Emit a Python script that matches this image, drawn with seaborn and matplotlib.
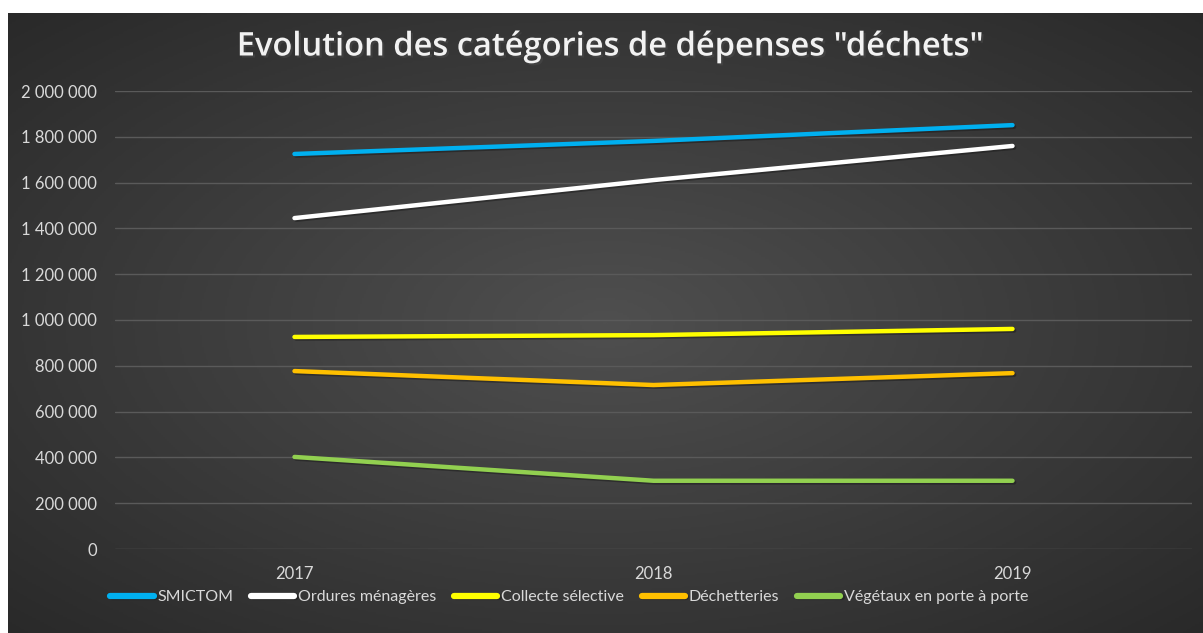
import numpy as np
import pandas as pd
import seaborn as sns
import matplotlib.pyplot as plt
import matplotlib.patheffects as pe
from matplotlib.ticker import FuncFormatter

# Data
annees = ['2017', '2018', '2019']
smictom = [1725000, 1782000, 1851000]
ordures = [1445000, 1611000, 1760000]
collecte = [926000, 934000, 961000]
dechetteries = [777000, 716000, 768000]
vegetaux = [402000, 298000, 298000]

categories = ['SMICTOM', 'Ordures ménagères', 'Collecte sélective',
              'Déchetteries', 'Végétaux en porte à porte']
couleurs = ['#00b0f0', '#ffffff', '#ffff00', '#ffc000', '#92d050']

df = pd.DataFrame({
    'annee': annees * 5,
    'valeur': smictom + ordures + collecte + dechetteries + vegetaux,
    'categorie': np.repeat(categories, 3),
})

sns.set_theme(style='dark')
plt.rcParams['font.family'] = ['Lato', 'DejaVu Sans']

fig = plt.figure(figsize=(12.03, 6.33), dpi=100, facecolor='white')

# dark radial gradient background (Excel style)
bg = fig.add_axes([8 / 1203, 0, 1195 / 1203, 620 / 633], zorder=0)
yy, xx = np.mgrid[-1:1:300j, -1:1:600j]
r = np.sqrt(xx ** 2 + yy ** 2) / np.sqrt(2)
bg.imshow(r, cmap=sns.dark_palette('#4f4f4f', as_cmap=True, reverse=True),
          vmin=0, vmax=1.1, aspect='auto', extent=(0, 1, 0, 1))
bg.set_xlim(0, 1)
bg.set_ylim(0, 1)
bg.axis('off')

ax = fig.add_axes([115 / 1203, 84 / 633, 1077 / 1203, 458 / 633], zorder=1)
ax.patch.set_alpha(0)

sns.lineplot(data=df, x='annee', y='valeur', hue='categorie',
             palette=couleurs, linewidth=3.2, ax=ax, sort=False,
             solid_capstyle='round')
for line in ax.get_lines():
    line.set_path_effects([pe.SimpleLineShadow(offset=(1.2, -1.2), alpha=0.5),
                           pe.Normal()])

ax.set_xlim(-0.5, 2.5)
ax.set_ylim(0, 2000000)
ax.set_yticks(np.arange(0, 2000001, 200000))
ax.yaxis.set_major_formatter(FuncFormatter(lambda v, p: f'{int(v):,}'.replace(',', ' ')))
ax.grid(axis='y', color='#5a5a5a', linewidth=1)
ax.grid(axis='x', visible=False)
for s in ax.spines.values():
    s.set_visible(False)
ax.tick_params(colors='#d9d9d9', labelsize=12, length=0)
ax.tick_params(axis='y', pad=13)
ax.tick_params(axis='x', pad=12)
ax.set_xlabel('')
ax.set_ylabel('')

leg = ax.legend(loc='center left', bbox_to_anchor=(96 / 1203, 36 / 633),
                bbox_transform=fig.transFigure, ncol=5, frameon=False,
                fontsize=11.5, handlelength=2.7, handletextpad=0.25,
                columnspacing=1.1, labelcolor='#d9d9d9')
for h in leg.get_lines():
    h.set_linewidth(4.5)
    h.set_solid_capstyle('round')

fig.text(610 / 1203, 1 - 47 / 633, 'Evolution des catégories de dépenses "déchets"',
         ha='center', va='center', color='#f2f2f2', fontsize=23.5,
         fontweight='semibold', fontfamily=['Open Sans', 'DejaVu Sans'],
         path_effects=[pe.withSimplePatchShadow(offset=(1.5, -1.5), alpha=0.6)])

fig.savefig('out.png', dpi=100)
